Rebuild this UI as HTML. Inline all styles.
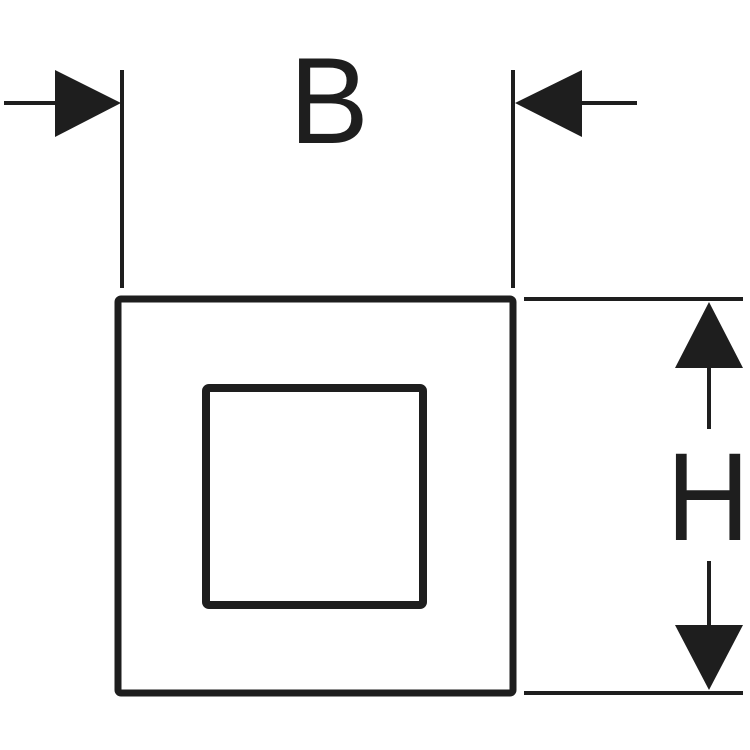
<!DOCTYPE html>
<html><head><style>html,body{margin:0;padding:0;background:#fff}svg{display:block}</style></head>
<body>
<svg width="750" height="750" viewBox="0 0 750 750" xmlns="http://www.w3.org/2000/svg">
<rect width="750" height="750" fill="#fff"/>
<g stroke="#1e1e1e" fill="none">
<line x1="4" y1="103" x2="60" y2="103" stroke-width="4"/>
<line x1="122" y1="70" x2="122" y2="288" stroke-width="4"/>
<line x1="513" y1="70" x2="513" y2="288" stroke-width="4"/>
<line x1="575" y1="103" x2="637" y2="103" stroke-width="4"/>
<rect x="118" y="299" width="395" height="394" rx="3" stroke-width="7"/>
<rect x="206" y="388" width="217" height="217" rx="3" stroke-width="8"/>
<line x1="524" y1="299" x2="743" y2="299" stroke-width="4"/>
<line x1="524" y1="693" x2="743" y2="693" stroke-width="4"/>
<line x1="709" y1="360" x2="709" y2="429" stroke-width="4"/>
<line x1="709" y1="561" x2="709" y2="630" stroke-width="4"/>
</g>
<g fill="#1e1e1e">
<polygon points="55,70 55,137 121,103"/>
<polygon points="582,70 582,137 515,103"/>
<polygon points="709,302 675,368 743,368"/>
<polygon points="709,690 675,625 743,625"/>
</g>
<text x="329" y="143" font-family="Liberation Sans, sans-serif" font-size="123" text-anchor="middle" fill="#1e1e1e" transform="translate(329 0) scale(0.97 1) translate(-329 0)">B</text>
<text x="708" y="540" font-family="Liberation Sans, sans-serif" font-size="125" text-anchor="middle" fill="#1e1e1e" transform="translate(708 0) scale(0.92 1) translate(-708 0)">H</text>
</svg>
</body></html>
